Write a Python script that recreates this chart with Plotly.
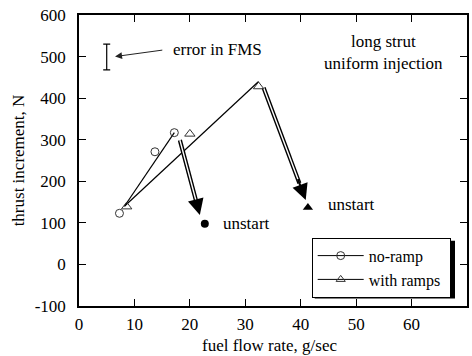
import plotly.graph_objects as go

# ---- data ----
noramp_x = [7.3, 13.7, 17.2]
noramp_y = [123, 271, 317]
ramp_x = [8.6, 20.0, 32.4]
ramp_y = [139, 314, 428]

noramp_line_x = [8.2, 17.2]
noramp_line_y = [140, 317]
ramp_line_x = [8.2, 32.4]
ramp_line_y = [140, 440]

unstart_noramp_x = [22.7]
unstart_noramp_y = [98]
unstart_ramp_x = [41.3]
unstart_ramp_y = [137]

arrow1_x = [18.2, 21.8]
arrow1_y = [299, 119]
arrow2_x = [33.3, 40.9]
arrow2_y = [425, 155]

err_x = [5.0]
err_y = [499]
err_half = [31]

x_ticks = [0, 10, 20, 30, 40, 50, 60, 70]
y_ticks = [-100, 0, 100, 200, 300, 400, 500, 600]
y_ticktext = ["-100", "0", "100", "200", "300", "400", "500", "600"]

FONT = "Liberation Serif, Times New Roman, Times, serif"
FS = 17

fig = go.Figure()

# lines
fig.add_trace(go.Scatter(x=noramp_line_x, y=noramp_line_y, mode="lines",
                         line=dict(color="black", width=1.2), showlegend=False))
fig.add_trace(go.Scatter(x=ramp_line_x, y=ramp_line_y, mode="lines",
                         line=dict(color="black", width=1.2), showlegend=False))

# double-line arrow shafts
for ax_, ay_ in [(arrow1_x, arrow1_y), (arrow2_x, arrow2_y)]:
    t = 0.85
    ex = ax_[0] + (ax_[1] - ax_[0]) * t
    ey = ay_[0] + (ay_[1] - ay_[0]) * t
    fig.add_trace(go.Scatter(x=[ax_[0], ex], y=[ay_[0], ey], mode="lines",
                             line=dict(color="black", width=4.2), showlegend=False))
    fig.add_trace(go.Scatter(x=[ax_[0], ex], y=[ay_[0], ey], mode="lines",
                             line=dict(color="white", width=1.4), showlegend=False))
    t2 = 0.8
    hx = ax_[0] + (ax_[1] - ax_[0]) * t2
    hy = ay_[0] + (ay_[1] - ay_[0]) * t2
    fig.add_annotation(x=ax_[1], y=ay_[1], ax=hx, ay=hy, axref="x", ayref="y",
                       xref="x", yref="y", text="", showarrow=True,
                       arrowhead=2, arrowsize=1.6, arrowwidth=2, arrowcolor="black")

# markers
fig.add_trace(go.Scatter(x=noramp_x, y=noramp_y, mode="markers",
                         marker=dict(symbol="circle-open", size=8, color="#333",
                                     line=dict(width=1)), showlegend=False))
fig.add_trace(go.Scatter(x=ramp_x, y=ramp_y, mode="markers",
                         marker=dict(symbol="triangle-up-open", size=9, color="#333",
                                     line=dict(width=1)), showlegend=False))
fig.add_trace(go.Scatter(x=unstart_noramp_x, y=unstart_noramp_y, mode="markers",
                         marker=dict(symbol="circle", size=8, color="black"), showlegend=False))
fig.add_trace(go.Scatter(x=unstart_ramp_x, y=unstart_ramp_y, mode="markers",
                         marker=dict(symbol="triangle-up", size=9, color="black"), showlegend=False))

# error bar
fig.add_trace(go.Scatter(x=err_x, y=err_y, mode="markers",
                         marker=dict(size=1, color="rgba(0,0,0,0)"),
                         error_y=dict(type="data", array=err_half, visible=True,
                                      color="black", thickness=1.2, width=3.5),
                         showlegend=False))

# legend entries
fig.add_trace(go.Scatter(x=[None], y=[None], mode="lines+markers", name="no-ramp",
                         line=dict(color="black", width=1),
                         marker=dict(symbol="circle-open", size=8, color="#333")))
fig.add_trace(go.Scatter(x=[None], y=[None], mode="lines+markers", name="with ramps\u00a0",
                         line=dict(color="black", width=1),
                         marker=dict(symbol="triangle-up-open", size=8, color="#333")))

# text annotations
fig.add_annotation(x=err_x[0] + 1.5, y=err_y[0] + 1, ax=15.3, ay=516, axref="x", ayref="y",
                   text="", showarrow=True, arrowhead=2, arrowsize=1.4,
                   arrowwidth=1, arrowcolor="#222")
fig.add_annotation(x=16.6, y=516, text="error in FMS", showarrow=False,
                   xanchor="left", yanchor="middle", font=dict(family=FONT, size=FS, color="black"))
fig.add_annotation(x=55, y=510, text="long strut<br>uniform injection", showarrow=False,
                   xanchor="center", yanchor="middle", align="center",
                   font=dict(family=FONT, size=FS, color="black"))
fig.add_annotation(x=25.6, y=unstart_noramp_y[0], text="unstart", showarrow=False,
                   xanchor="left", yanchor="middle", font=dict(family=FONT, size=FS, color="black"))
fig.add_annotation(x=44.6, y=143, text="unstart", showarrow=False,
                   xanchor="left", yanchor="middle", font=dict(family=FONT, size=FS, color="black"))

# axis titles
fig.add_annotation(xref="paper", yref="paper", x=0.492, y=-0.135,
                   text="fuel flow rate, g/sec", showarrow=False,
                   xanchor="center", yanchor="middle", font=dict(family=FONT, size=FS, color="black"))
fig.add_annotation(xref="paper", yref="paper", x=-0.155, y=0.5,
                   text="thrust increment, N", showarrow=False, textangle=-90,
                   xanchor="center", yanchor="middle", font=dict(family=FONT, size=FS, color="black"))

# legend shadow
fig.add_shape(type="rect", xref="paper", yref="paper",
              x0=(314.7 - 79) / 388, x1=(455.0 - 79) / 388,
              y0=(306 - 298.5) / 291, y1=(306 - 240.7) / 291,
              fillcolor="black", line=dict(width=0), layer="above")

axis_common = dict(showline=True, linecolor="black", linewidth=1.6, mirror="ticks",
                   ticks="inside", ticklen=7, tickwidth=1.4, tickcolor="black",
                   showgrid=False, zeroline=False,
                   tickfont=dict(family=FONT, size=FS, color="black"))

fig.update_layout(
    width=472, height=356,
    margin=dict(l=79, r=5, t=15, b=50, autoexpand=False),
    paper_bgcolor="white", plot_bgcolor="white",
    font=dict(family=FONT, size=FS, color="black"),
    xaxis=dict(range=[0, 70], tickvals=x_ticks, ticklabelstandoff=2, **axis_common),
    yaxis=dict(range=[-100, 600], tickvals=y_ticks, ticktext=y_ticktext,
               ticklabelstandoff=8, **axis_common),
    legend=dict(x=(311.7 - 79) / 388, y=(306 - 237.7) / 291, xanchor="left", yanchor="top",
                bgcolor="white", bordercolor="black", borderwidth=1,
                font=dict(family=FONT, size=16, color="black"),
                tracegroupgap=0, itemwidth=46),
)

fig.write_html("out.html")
